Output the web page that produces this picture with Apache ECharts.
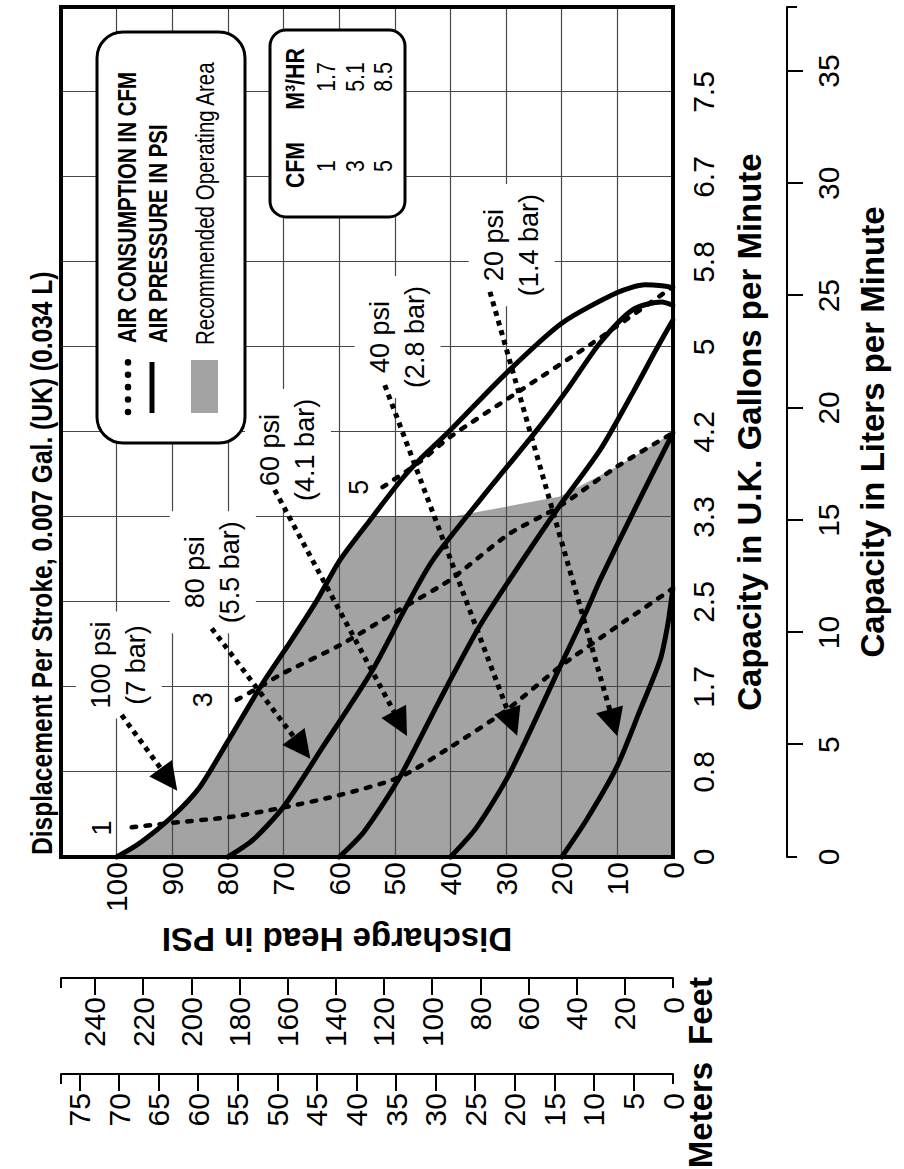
<!DOCTYPE html>
<html>
<head>
<meta charset="utf-8">
<script src="https://cdn.jsdelivr.net/npm/echarts@6/dist/echarts.min.js"></script>
<style>
html,body{margin:0;padding:0;background:#fff;width:904px;height:1169px;overflow:hidden}
#wrap{position:absolute;left:0;top:0;width:1169px;height:904px;transform-origin:0 0;transform:translateY(1169px) rotate(-90deg)}
#chart{width:1169px;height:904px}
</style>
</head>
<body>
<div id="wrap"><div id="chart"></div></div>
<script>
// ---------- axis labels ----------
const GAL_UK_LABELS = ['0','0.8','1.7','2.5','3.3','4.2','5','5.8','6.7','7.5'];
const LITER_LABELS = [0,5,10,15,20,25,30,35];
const FEET_LABELS = [0,20,40,60,80,100,120,140,160,180,200,220,240];
const METER_LABELS = [0,5,10,15,20,25,30,35,40,45,50,55,60,65,70,75];

// ---------- series values: [capacity in liters/min, discharge head in psi] ----------
const PSI_100 = [[0,100],[0.61,95.9],[1.78,90.1],[3.10,85.1],[5.07,80.2],[7.76,73.7],[9.54,68.9],[11.43,64.0],[13.21,59.9],[14.99,54.5],[16.81,48.8],[17.68,45.6],[18.89,40.5],[21.54,30.0],[23.77,20.0],[25.14,10.0],[25.48,5.0],[25.44,2.0],[25.36,0]];
const PSI_80  = [[0,80],[0.76,75.5],[2.20,70.1],[4.88,63.0],[8.33,54.0],[11.13,48.0],[13.21,43.2],[16.05,34.2],[19.00,24.5],[20.78,19.1],[22.90,13.1],[24.38,7.2],[24.72,2.0],[24.57,0]];
const PSI_60  = [[0,60],[1.14,55.5],[3.56,49.1],[7.00,41.9],[10.26,34.8],[12.49,29.0],[15.60,20.5],[18.13,13.1],[20.78,7.0],[22.52,3.2],[23.92,0]];
const PSI_40  = [[0,40],[1.32,35.3],[3.75,29.3],[8.48,20.3],[10.98,15.5],[12.34,13.1],[15.33,7.2],[18.89,0]];
const PSI_20  = [[0,20],[1.67,15.5],[4.01,10.1],[6.55,5.9],[8.78,2.3],[10.41,0.9],[11.96,0]];
const CFM_1 = [[1.32,97.3],[1.51,90.5],[1.78,79.7],[2.20,70.1],[2.76,59.9],[3.56,49.1],[4.88,40.1],[6.55,29.9],[8.48,20.3],[10.26,10.1],[11.96,0]];
const CFM_3 = [[7.00,78.4],[7.57,74.3],[8.18,70.1],[9.43,59.9],[11.02,49.1],[12.34,40.1],[14.38,29.5],[15.60,20.5],[17.38,10.1],[18.89,0]];
const CFM_5 = [[16.47,52.2],[17.60,45.5],[18.70,40.1],[20.67,28.1],[22.90,14.4],[25.40,0]];
const OPERATING_AREA = [[0,100],[0.61,95.9],[1.78,90.1],[3.10,85.1],[5.07,80.2],[7.76,73.7],[9.54,68.9],[11.43,64.0],[13.21,59.9],[14.99,54.5],[15.14,54.0],[15.14,40.0],[15.60,30.0],[16.05,20.3],[17.38,10.1],[18.89,0]];

// ---------- annotations ----------
const PRESSURE_NAMES = ['100 psi','80 psi','60 psi','40 psi','20 psi'];
const BAR_NAMES = ['(7 bar)','(5.5 bar)','(4.1 bar)','(2.8 bar)','(1.4 bar)'];
const NOTE_AT = [[8.55,99.6],[12.68,82.7],[18.13,69.2],[23.16,49.5],[27.25,29.0]];
const ARROW_FROM = [[6.32,99.1],[10.18,82.9],[16.35,71.6],[21.01,51.8],[25.17,32.9]];
const ARROW_TO = [[3.45,90.6],[4.87,66.7],[5.94,49.0],[5.98,28.9],[5.98,10.7]];
const CFM_NAMES = ['1','3','5'];
const CFM_LABEL_AT = [[1.29,102.7],[7.00,84.5],[16.47,56.5]];
const TABLE_CFM = ['1','3','5'];
const TABLE_M3HR = ['1.7','5.1','8.5'];
const LEGEND_TEXT = ['AIR CONSUMPTION IN CFM','AIR PRESSURE IN PSI','Recommended Operating Area'];
const TITLE = 'Displacement Per Stroke, 0.007 Gal. (UK) (0.034 L)';

// ---------- unit conversions ----------
const L_PER_USGAL = 3.7854;
const L_MAX = 10 * L_PER_USGAL;
const PSI_MAX = 110;
const FT_PER_PSI = 2.31;
const M_PER_PSI = 0.703;
const FT_MAX = PSI_MAX * FT_PER_PSI;
const M_MAX = PSI_MAX * M_PER_PSI;

const FONT = "'Liberation Sans', Arial, Helvetica, sans-serif";
const BLACK = '#000';
const GRID_GRAY = '#474747';
const NARROW_SCALE = 0.82;

const chart = echarts.init(document.getElementById('chart'), null, {renderer: 'svg', width: 1169, height: 904});

function curve(data, dashed) {
  return {
    type: 'line', data: data, showSymbol: false, symbol: 'none', smooth: 0.25, silent: true, z: 5,
    lineStyle: dashed ? {color: BLACK, width: 4.5, type: [4.5, 9.5], cap: 'round'} : {color: BLACK, width: 5, cap: 'round'}
  };
}

function tickAxisLeft(offset, max, ticks, labels, margin) {
  return {
    type: 'value', min: 0, max: max, position: 'left', offset: offset, z: 3,
    axisLine: {show: true, onZero: false, lineStyle: {color: BLACK, width: 2}},
    axisTick: {show: true, length: 17, customValues: ticks, lineStyle: {color: BLACK, width: 2}},
    axisLabel: {show: true, customValues: labels, fontSize: 30, color: BLACK, fontFamily: FONT, margin: margin},
    splitLine: {show: false}
  };
}
function capAxisLeft(offset, max) {
  return {
    type: 'value', min: 0, max: max, position: 'left', offset: offset,
    axisLine: {show: false, onZero: false},
    axisTick: {show: true, length: 10, customValues: [0, max], lineStyle: {color: BLACK, width: 2}},
    axisLabel: {show: false}, splitLine: {show: false}
  };
}

// narrow (condensed) text drawn as graphic text squeezed along its reading direction
function narrowText(x, y, text, size, bold, align) {
  return {type: 'text', z: 21, x: x, y: y, scaleX: NARROW_SCALE,
    style: {text: text, fontSize: size, fontWeight: bold ? 'bold' : 'normal', fontFamily: FONT, fill: BLACK,
      align: align || 'left', verticalAlign: 'middle'}};
}

const option = {
  animation: false,
  backgroundColor: '#fff',
  grid: {left: 312, right: 7, top: 61, bottom: 231, show: true, borderColor: BLACK, borderWidth: 4, backgroundColor: 'transparent', z: 8},
  xAxis: [
    {
      type: 'value', min: 0, max: L_MAX, interval: L_PER_USGAL, position: 'bottom', z: 3,
      axisLine: {show: false, onZero: false}, axisTick: {show: false},
      axisLabel: {fontSize: 30, color: BLACK, fontFamily: FONT, margin: 15,
        formatter: function (v) { const i = Math.round(v / L_PER_USGAL); return GAL_UK_LABELS[i] !== undefined ? GAL_UK_LABELS[i] : ''; }},
      splitLine: {show: true, lineStyle: {color: GRID_GRAY, width: 1.2}},
      name: 'Capacity in U.K. Gallons per Minute', nameLocation: 'middle', nameGap: 60,
      nameTextStyle: {fontSize: 33, fontWeight: 'bold', color: BLACK, fontFamily: FONT}
    },
    {
      type: 'value', min: 0, max: L_MAX, position: 'bottom', offset: 114, z: 3,
      axisLine: {show: true, onZero: false, lineStyle: {color: BLACK, width: 2}},
      axisTick: {show: true, length: 16, customValues: LITER_LABELS.slice(1), lineStyle: {color: BLACK, width: 2}},
      axisLabel: {customValues: LITER_LABELS, fontSize: 30, color: BLACK, fontFamily: FONT, margin: 26},
      splitLine: {show: false},
      name: 'Capacity in Liters per Minute', nameLocation: 'middle', nameGap: 69,
      nameTextStyle: {fontSize: 33, fontWeight: 'bold', color: BLACK, fontFamily: FONT}
    },
    {
      type: 'value', min: 0, max: L_MAX, position: 'bottom', offset: 114,
      axisLine: {show: false, onZero: false},
      axisTick: {show: true, length: 10, customValues: [0, L_MAX], lineStyle: {color: BLACK, width: 2}},
      axisLabel: {show: false}, splitLine: {show: false}
    }
  ],
  yAxis: [
    {
      type: 'value', min: 0, max: PSI_MAX, interval: 10, position: 'left', z: 3,
      axisLine: {show: false, onZero: false}, axisTick: {show: false},
      axisLabel: {fontSize: 30, color: BLACK, fontFamily: FONT, margin: 5, formatter: function (v) { return v > 100 ? '' : String(v); }},
      splitLine: {show: true, lineStyle: {color: GRID_GRAY, width: 1.2}},
      name: 'Discharge Head in PSI', nameLocation: 'middle', nameGap: 58,
      nameTextStyle: {fontSize: 33, fontWeight: 'bold', color: BLACK, fontFamily: FONT, padding: [0, 0, 0, 60]}
    },
    tickAxisLeft(121, FT_MAX, FEET_LABELS.slice(1), FEET_LABELS, 19),
    tickAxisLeft(217, M_MAX, METER_LABELS.slice(1), METER_LABELS, 19),
    capAxisLeft(121, FT_MAX),
    capAxisLeft(217, M_MAX)
  ],
  series: [
    {type: 'line', data: OPERATING_AREA, showSymbol: false, symbol: 'none', silent: true, z: 1,
      lineStyle: {width: 0, opacity: 0}, areaStyle: {color: '#a3a3a3', opacity: 1}},
    curve(PSI_100, false), curve(PSI_80, false), curve(PSI_60, false), curve(PSI_40, false), curve(PSI_20, false),
    curve(CFM_1, true), curve(CFM_3, true), curve(CFM_5, true),
    {type: 'scatter', silent: true, z: 6, symbolSize: 0, itemStyle: {color: '#fff', opacity: 1},
      data: NOTE_AT.map(function (pt, i) { return {value: pt, label: {formatter: PRESSURE_NAMES[i] + '\n' + BAR_NAMES[i]}}; }),
      label: {show: true, position: 'inside', fontSize: 27, lineHeight: 35, color: BLACK, opacity: 1, textBorderWidth: 0, fontFamily: FONT,
        backgroundColor: '#fff', padding: [8, 10], align: 'center', verticalAlign: 'middle'}},
    {type: 'scatter', silent: true, z: 6, symbolSize: 0, itemStyle: {color: '#fff', opacity: 1},
      data: CFM_LABEL_AT.map(function (pt, i) { return {value: pt, label: {formatter: CFM_NAMES[i]}}; }),
      label: {show: true, position: 'inside', fontSize: 27, color: BLACK, opacity: 1, textBorderWidth: 0, fontFamily: FONT, align: 'center', verticalAlign: 'middle'}},
    {type: 'lines', coordinateSystem: 'cartesian2d', silent: true, z: 7,
      data: ARROW_FROM.map(function (f, i) { return {coords: [f, ARROW_TO[i]]}; }),
      symbol: ['none', 'triangle'], symbolSize: [15, 28],
      lineStyle: {color: BLACK, width: 5, type: [5, 5], opacity: 1, curveness: 0}}
  ],
  graphic: {elements: [
    narrowText(314, 42, TITLE, 30, true),
    // legend box
    {type: 'rect', z: 20, shape: {x: 726, y: 97, width: 411, height: 148, r: 26}, style: {fill: '#fff', stroke: BLACK, lineWidth: 3}},
    {type: 'line', z: 21, shape: {x1: 757, y1: 128, x2: 807, y2: 128}, style: {stroke: BLACK, lineWidth: 6.5, lineDash: [0.1, 12.3], lineCap: 'round'}},
    {type: 'line', z: 21, shape: {x1: 756, y1: 152, x2: 807, y2: 152}, style: {stroke: BLACK, lineWidth: 5}},
    {type: 'rect', z: 21, shape: {x: 756, y: 191, width: 53, height: 27}, style: {fill: '#a3a3a3'}},
    narrowText(826, 127, LEGEND_TEXT[0], 25, true),
    narrowText(826, 158, LEGEND_TEXT[1], 25, true),
    narrowText(824, 205, LEGEND_TEXT[2], 25, false),
    // CFM table
    {type: 'rect', z: 20, shape: {x: 952, y: 270, width: 187, height: 135, r: 16}, style: {fill: '#fff', stroke: BLACK, lineWidth: 3}},
    narrowText(1004, 295, 'CFM', 26, true, 'center'),
    narrowText(1090, 295, 'M³/HR', 26, true, 'center'),
    narrowText(1003, 326, TABLE_CFM[0], 26, false, 'center'),
    narrowText(1003, 355, TABLE_CFM[1], 26, false, 'center'),
    narrowText(1003, 383, TABLE_CFM[2], 26, false, 'center'),
    narrowText(1092, 326, TABLE_M3HR[0], 26, false, 'center'),
    narrowText(1092, 355, TABLE_M3HR[1], 26, false, 'center'),
    narrowText(1092, 383, TABLE_M3HR[2], 26, false, 'center'),
    // unit names of the head scales
    {type: 'text', z: 21, x: 158, y: 700, style: {text: 'Feet', fontSize: 33, fontWeight: 'bold', fontFamily: FONT, fill: BLACK, align: 'center', verticalAlign: 'middle'}},
    {type: 'text', z: 21, x: 54, y: 700, style: {text: 'Meters', fontSize: 33, fontWeight: 'bold', fontFamily: FONT, fill: BLACK, align: 'center', verticalAlign: 'middle'}}
  ]}
};
chart.setOption(option);
</script>
</body>
</html>
